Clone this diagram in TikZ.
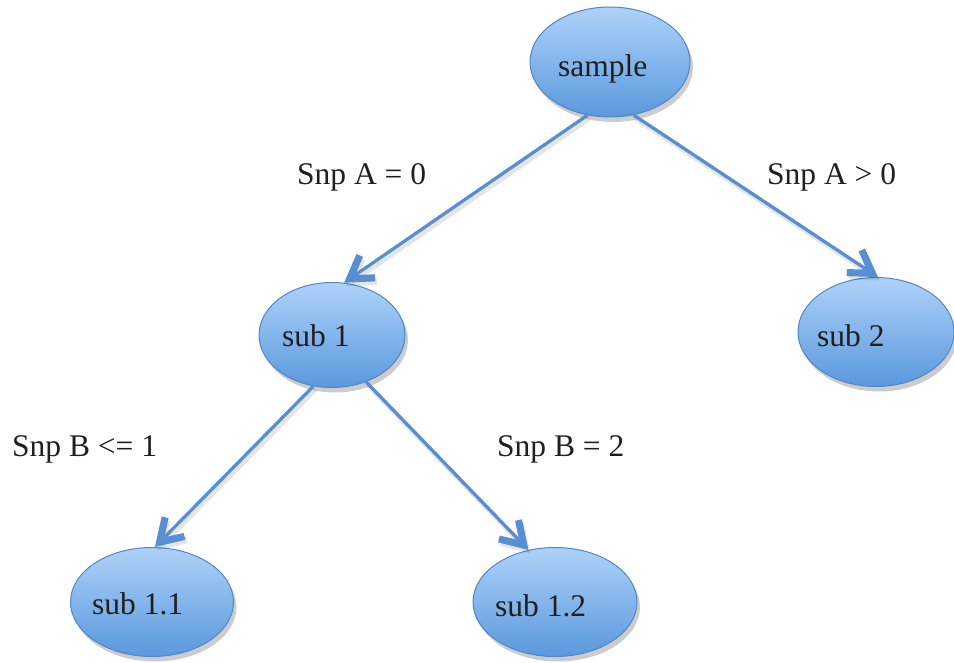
\documentclass[tikz,border=0pt]{standalone}
\usepackage{fontspec}
\setmainfont{Liberation Serif}
\usetikzlibrary{shapes.geometric,shadows,decorations.markings}
\definecolor{nodetop}{RGB}{174,210,249}
\definecolor{nodebot}{RGB}{90,152,221}
\definecolor{noderim}{RGB}{80,134,198}
\definecolor{linkblue}{RGB}{88,142,210}
\begin{document}
\begin{tikzpicture}[x=1pt,y=-1pt,
  blob/.style={ellipse, inner sep=0pt, draw=noderim, line width=1pt,
    top color=nodetop, bottom color=nodebot,
    drop shadow={shadow xshift=3pt, shadow yshift=-5pt, opacity=0.2, fill=black}},
  txt/.style={inner sep=0pt, anchor=base west, text=black!88,
    font=\fontsize{31.5}{36}\selectfont},
  % thick open chevron, filled as an outline, at the end of a connector
  barb/.style={postaction={decorate, decoration={markings,
    mark=at position 1 with {\fill[#1]
      (0pt,0pt) -- (-26.5pt,16.6pt) -- (-30.2pt,10.6pt) -- (-13.6pt,0pt)
      -- (-30.2pt,-10.6pt) -- (-26.5pt,-16.6pt) -- cycle;}}}},
  link/.style={draw=linkblue, line width=3.3pt, shorten >=7pt, barb=linkblue},
  linkshade/.style={draw=black, opacity=0.1, line width=4.5pt, shorten >=7pt,
    barb={black, opacity=0.1}}
]
\useasboundingbox (0,0) rectangle (954,663);

% tree nodes
\node[blob, minimum width=160pt, minimum height=110pt] (sample) at (610,62) {};
\node[blob, minimum width=146pt, minimum height=105pt] (sub1) at (332,335) {};
\node[blob, minimum width=156pt, minimum height=109pt] (sub2) at (876,332) {};
\node[blob, minimum width=163pt, minimum height=109pt] (sub11) at (152,602) {};
\node[blob, minimum width=164pt, minimum height=109pt] (sub12) at (555,602) {};

% node captions
\node[txt] (t-sample) at (558,77) {sample};
\node[txt] (t-sub1) at (282,346) {sub 1};
\node[txt] (t-sub2) at (817,347) {sub 2};
\node[txt] (t-sub11) at (92,614) {sub 1.1};
\node[txt] (t-sub12) at (495,616) {sub 1.2};

% soft shadows under the connectors
\draw[linkshade] ([shift={(2,3.5)}]sample.247) -- ([shift={(2,3.5)}]sub1.77);
\draw[linkshade] ([shift={(2,3.5)}]sample.294) -- ([shift={(2,3.5)}]sub2.88);
\draw[linkshade] ([shift={(2,3.5)}]sub1.250) -- ([shift={(2,3.5)}]sub11.87);
\draw[linkshade] ([shift={(2,3.5)}]sub1.306) -- ([shift={(2,3.5)}]sub12.117);

% connectors
\draw[link] (sample.247) -- (sub1.77);
\draw[link] (sample.294) -- (sub2.88);
\draw[link] (sub1.250) -- (sub11.87);
\draw[link] (sub1.306) -- (sub12.117);

% split conditions
\node[txt] (c-a0) at (297,185) {Snp A = 0};
\node[txt] (c-a1) at (767,185) {Snp A > 0};
\node[txt] (c-b1) at (12,456) {Snp B <= 1};
\node[txt] (c-b2) at (497,456) {Snp B = 2};
\end{tikzpicture}
\end{document}
